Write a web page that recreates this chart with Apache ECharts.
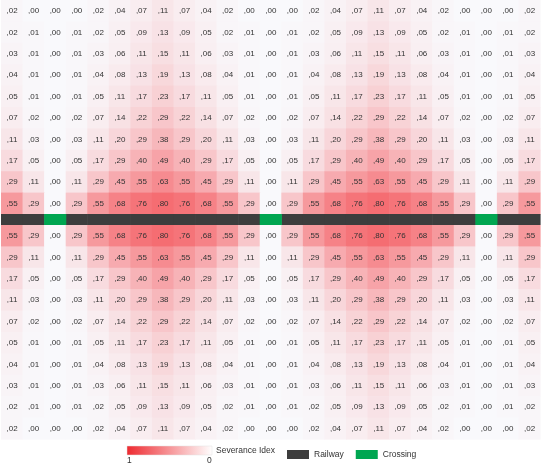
<!DOCTYPE html>
<html>
<head>
<meta charset="utf-8">
<script src="https://cdn.jsdelivr.net/npm/echarts@6/dist/echarts.min.js"></script>
<style>
  html, body { margin: 0; padding: 0; background: #fff; }
  #chart { width: 541px; height: 464px; }
</style>
</head>
<body>
<div id="chart"></div>
<script>
// columns along the railway
const columns = ['0','1','2','3','4','5','6','7','8','9','10','11','12','13','14','15','16','17','18','19','20','21','22','23','24']

// severance index, rows north of the railway (far -> near)
const northRows = [
  [.02,.00,.00,.00,.02,.04,.07,.11,.07,.04,.02,.00,.00,.00,.02,.04,.07,.11,.07,.04,.02,.00,.00,.00,.02],
  [.02,.01,.00,.01,.02,.05,.09,.13,.09,.05,.02,.01,.00,.01,.02,.05,.09,.13,.09,.05,.02,.01,.00,.01,.02],
  [.03,.01,.00,.01,.03,.06,.11,.15,.11,.06,.03,.01,.00,.01,.03,.06,.11,.15,.11,.06,.03,.01,.00,.01,.03],
  [.04,.01,.00,.01,.04,.08,.13,.19,.13,.08,.04,.01,.00,.01,.04,.08,.13,.19,.13,.08,.04,.01,.00,.01,.04],
  [.05,.01,.00,.01,.05,.11,.17,.23,.17,.11,.05,.01,.00,.01,.05,.11,.17,.23,.17,.11,.05,.01,.00,.01,.05],
  [.07,.02,.00,.02,.07,.14,.22,.29,.22,.14,.07,.02,.00,.02,.07,.14,.22,.29,.22,.14,.07,.02,.00,.02,.07],
  [.11,.03,.00,.03,.11,.20,.29,.38,.29,.20,.11,.03,.00,.03,.11,.20,.29,.38,.29,.20,.11,.03,.00,.03,.11],
  [.17,.05,.00,.05,.17,.29,.40,.49,.40,.29,.17,.05,.00,.05,.17,.29,.40,.49,.40,.29,.17,.05,.00,.05,.17],
  [.29,.11,.00,.11,.29,.45,.55,.63,.55,.45,.29,.11,.00,.11,.29,.45,.55,.63,.55,.45,.29,.11,.00,.11,.29],
  [.55,.29,.00,.29,.55,.68,.76,.80,.76,.68,.55,.29,.00,.29,.55,.68,.76,.80,.76,.68,.55,.29,.00,.29,.55],
]

// severance index, rows south of the railway (near -> far)
const southRows = [
  [.55,.29,.00,.29,.55,.68,.76,.80,.76,.68,.55,.29,.00,.29,.55,.68,.76,.80,.76,.68,.55,.29,.00,.29,.55],
  [.29,.11,.00,.11,.29,.45,.55,.63,.55,.45,.29,.11,.00,.11,.29,.45,.55,.63,.55,.45,.29,.11,.00,.11,.29],
  [.17,.05,.00,.05,.17,.29,.40,.49,.40,.29,.17,.05,.00,.05,.17,.29,.40,.49,.40,.29,.17,.05,.00,.05,.17],
  [.11,.03,.00,.03,.11,.20,.29,.38,.29,.20,.11,.03,.00,.03,.11,.20,.29,.38,.29,.20,.11,.03,.00,.03,.11],
  [.07,.02,.00,.02,.07,.14,.22,.29,.22,.14,.07,.02,.00,.02,.07,.14,.22,.29,.22,.14,.07,.02,.00,.02,.07],
  [.05,.01,.00,.01,.05,.11,.17,.23,.17,.11,.05,.01,.00,.01,.05,.11,.17,.23,.17,.11,.05,.01,.00,.01,.05],
  [.04,.01,.00,.01,.04,.08,.13,.19,.13,.08,.04,.01,.00,.01,.04,.08,.13,.19,.13,.08,.04,.01,.00,.01,.04],
  [.03,.01,.00,.01,.03,.06,.11,.15,.11,.06,.03,.01,.00,.01,.03,.06,.11,.15,.11,.06,.03,.01,.00,.01,.03],
  [.02,.01,.00,.01,.02,.05,.09,.13,.09,.05,.02,.01,.00,.01,.02,.05,.09,.13,.09,.05,.02,.01,.00,.01,.02],
  [.02,.00,.00,.00,.02,.04,.07,.11,.07,.04,.02,.00,.00,.00,.02,.04,.07,.11,.07,.04,.02,.00,.00,.00,.02],
]

// railway row: which columns are track and which are crossings
const crossingCols = [2, 12, 22]
const railwayCols = [0,1,3,4,5,6,7,8,9,10,11,13,14,15,16,17,18,19,20,21,23,24]

const toCells = rows => {
  let out = []
  rows.forEach((row, r) => row.forEach((v, c) => out.push([c, r, v])))
  return out
}
const rowIdx = n => Array.from({ length: n }, (_, i) => String(i))

const fmt = v => ',' + v.toFixed(2).slice(2)

// cells drawn a hair larger than the band so neighbours overlap (no seams)
function renderCell(params, api) {
  const p = api.coord([api.value(0), api.value(1)])
  const s = api.size([1, 1])
  return {
    type: 'rect',
    shape: { x: p[0] - s[0] / 2, y: p[1] - s[1] / 2, width: s[0] + 0.6, height: s[1] + 0.6 },
    style: { fill: api.visual('color') },
    textContent: {
      style: {
        text: fmt(api.value(2)),
        fontSize: 8,
        fill: '#333',
        fontFamily: 'Liberation Sans',
      },
    },
    textConfig: { position: 'inside' },
  }
}

function renderTrack(params, api) {
  const p = api.coord([api.value(0), api.value(1)])
  const s = api.size([1, 1])
  return {
    type: 'rect',
    shape: { x: p[0] - s[0] / 2, y: p[1] - s[1] / 2, width: s[0] + 0.6, height: s[1] },
    style: { fill: api.visual('color') },
  }
}

const chart = echarts.init(document.getElementById('chart'))

const L = 1, W = 539
let options = {
  backgroundColor: '#fff',
  animation: false,
  grid: [
    { left: L, width: W, top: 0, height: 214 },
    { left: L, width: W, top: 214, height: 11 },
    { left: L, width: W, top: 225, height: 214 },
  ],
  xAxis: [0, 1, 2].map(i => ({ type: 'category', data: columns, gridIndex: i, show: false })),
  yAxis: [
    { type: 'category', data: rowIdx(10), gridIndex: 0, inverse: true, show: false },
    { type: 'category', data: ['rail'], gridIndex: 1, show: false },
    { type: 'category', data: rowIdx(10), gridIndex: 2, inverse: true, show: false },
  ],
  visualMap: {
    type: 'continuous',
    show: false,
    min: 0,
    max: 1,
    dimension: 2,
    seriesIndex: [0, 1],
    inRange: { color: ['#f9f9fc', '#f44a50'] },
  },
  legend: {
    left: 282,
    top: 445,
    itemWidth: 22,
    itemHeight: 9,
    itemGap: 12,
    icon: 'rect',
    textStyle: { fontSize: 8.5, color: '#333', fontFamily: 'Liberation Sans' },
    data: ['Railway', 'Crossing'],
  },
  graphic: [
    {
      type: 'rect',
      shape: { x: 127, y: 446, width: 85, height: 9 },
      style: {
        fill: new echarts.graphic.LinearGradient(0, 0, 1, 0, [
          { offset: 0, color: '#ee2a30' },
          { offset: 1, color: '#ffffff' },
        ]),
        stroke: '#e0e0e0',
        lineWidth: 0.5,
      },
    },
    { type: 'text', left: 127, top: 456, style: { text: '1', fontSize: 8.5, fill: '#333', fontFamily: 'Liberation Sans' } },
    { type: 'text', left: 207, top: 456, style: { text: '0', fontSize: 8.5, fill: '#333', fontFamily: 'Liberation Sans' } },
    { type: 'text', left: 216, top: 446, style: { text: 'Severance Idex', fontSize: 8.5, fill: '#333', fontFamily: 'Liberation Sans' } },
  ],
  series: [
    {
      name: 'north',
      type: 'custom',
      xAxisIndex: 0,
      yAxisIndex: 0,
      renderItem: renderCell,
      encode: { x: 0, y: 1 },
      data: toCells(northRows),
      silent: true,
    },
    {
      name: 'south',
      type: 'custom',
      xAxisIndex: 2,
      yAxisIndex: 2,
      renderItem: renderCell,
      encode: { x: 0, y: 1 },
      data: toCells(southRows),
      silent: true,
    },
    {
      name: 'Railway',
      type: 'custom',
      xAxisIndex: 1,
      yAxisIndex: 1,
      renderItem: renderTrack,
      encode: { x: 0, y: 1 },
      itemStyle: { color: '#3d3d3d' },
      data: railwayCols.map(c => [c, 0]),
      silent: true,
    },
    {
      name: 'Crossing',
      type: 'custom',
      xAxisIndex: 1,
      yAxisIndex: 1,
      renderItem: renderTrack,
      encode: { x: 0, y: 1 },
      itemStyle: { color: '#00a651' },
      data: crossingCols.map(c => [c, 0]),
      silent: true,
    },
  ],
}
chart.setOption(options)
</script>
</body>
</html>
